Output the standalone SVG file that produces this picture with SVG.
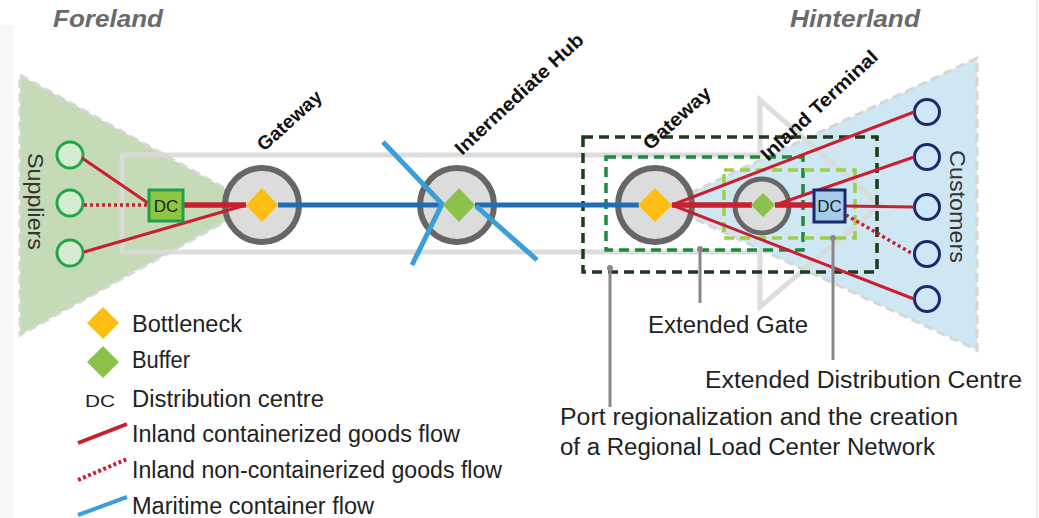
<svg xmlns="http://www.w3.org/2000/svg" width="1039" height="518" viewBox="0 0 1039 518">
<style>
.lbl{font-family:"Liberation Sans",Arial,sans-serif;font-size:23px;fill:#222}
.rot{font-family:"Liberation Sans",Arial,sans-serif;font-size:19px;font-weight:bold;fill:#111}
.side{font-family:"Liberation Sans",Arial,sans-serif;font-size:22px;fill:#333}
.region{font-family:"Liberation Sans",Arial,sans-serif;font-size:24px;font-weight:bold;font-style:italic;fill:#6a6a6a}
.dc{font-family:"Liberation Sans",Arial,sans-serif;font-size:17px;fill:#222}
.hub{fill:#dcdcdc;stroke:#666;stroke-width:6}
.red{stroke:#c8202e;stroke-width:3;fill:none}
.redthick{stroke:#c8202e;stroke-width:5.5;fill:none}
.reddot{stroke:#c8202e;stroke-width:3.5;stroke-dasharray:3 3;fill:none}
.sea{stroke:#1f6db5;stroke-width:5;fill:none}
.sealight{stroke:#3a9fd8;stroke-width:5;fill:none}
.sup{fill:#d5ecd2;stroke:#22a84a;stroke-width:3}
.cus{fill:#cde7f6;stroke:#1b2a6b;stroke-width:3}
.bottle{fill:#fdbd13}
.buffer{fill:#8bc34a}
.leader{stroke:#888;stroke-width:3;fill:none}
.box{fill:none;stroke-width:3.5;stroke-dasharray:10 6}
</style>
<rect width="1039" height="518" fill="#fff"/>
<rect x="0" y="25" width="14" height="493" fill="#f6f8f8"/>
<line x1="1037" y1="0" x2="1037" y2="518" stroke="#ececec" stroke-width="2"/>

<g id="foreland">
<polygon points="20,75 255,205 20,335" fill="#c5dbb8" stroke="#d6d6d6" stroke-width="3" stroke-dasharray="9 5"/>
<text class="region" x="53" y="27" textLength="110" lengthAdjust="spacingAndGlyphs">Foreland</text>
</g>
<g id="hinterland">
<polygon points="665,205 977,58 977,350" fill="#cfe7f3" stroke="#d6d6d6" stroke-width="3" stroke-dasharray="9 5"/>
<text class="region" x="790" y="27" textLength="130" lengthAdjust="spacingAndGlyphs">Hinterland</text>
</g>

<g id="corridor">
<path d="M122,155 H760 V100 L880,205 L760,307 V252 H122 Z" fill="none" stroke="#d9d9d9" stroke-width="5" stroke-opacity="0.9"/>
</g>

<g id="regional-network">
<rect class="box" x="583" y="137" width="294" height="135" stroke="#1c3a1c"/>
</g>
<g id="extended-gate">
<rect class="box" x="606" y="157" width="197" height="93" stroke="#1c8c3c"/>
</g>
<g id="extended-dc">
<rect class="box" x="724" y="170" width="131" height="68" stroke="#9bd04a"/>
</g>

<g id="suppliers">
<circle class="sup" cx="70" cy="155" r="13"/>
<circle class="sup" cx="70" cy="203" r="13"/>
<circle class="sup" cx="70" cy="253" r="13"/>
<text class="side" transform="translate(28,153) rotate(90)" textLength="97" lengthAdjust="spacingAndGlyphs">Suppliers</text>
</g>

<g id="gateway-1">
<circle class="hub" cx="262" cy="205" r="37"/>
<text class="rot" transform="translate(264,152) rotate(-42)" textLength="80" lengthAdjust="spacingAndGlyphs">Gateway</text>
</g>

<g id="intermediate-hub">
<circle class="hub" cx="457" cy="205" r="37"/>
<text class="rot" transform="translate(462,156) rotate(-43)" textLength="168" lengthAdjust="spacingAndGlyphs">Intermediate Hub</text>
</g>

<g id="gateway-2">
<circle class="hub" cx="655" cy="205" r="37"/>
<text class="rot" transform="translate(650,151) rotate(-42)" textLength="84" lengthAdjust="spacingAndGlyphs">Gateway</text>
</g>

<g id="inland-terminal">
<circle cx="762" cy="206" r="27" fill="#dcdcdc" stroke="#666" stroke-width="5"/>
<text class="rot" transform="translate(768,162) rotate(-43)" textLength="152" lengthAdjust="spacingAndGlyphs">Inland Terminal</text>
</g>

<g id="customers">
<circle class="cus" cx="927" cy="112" r="12.5"/>
<circle class="cus" cx="927" cy="157" r="12.5"/>
<circle class="cus" cx="927" cy="207" r="12.5"/>
<circle class="cus" cx="927" cy="254" r="12.5"/>
<circle class="cus" cx="927" cy="299" r="12.5"/>
<text class="side" transform="translate(950,150) rotate(90)" textLength="113" lengthAdjust="spacingAndGlyphs">Customers</text>
</g>

<g id="connectors">
<line class="red" x1="82" y1="158" x2="148" y2="203"/>
<line class="reddot" x1="84" y1="205" x2="148" y2="205"/>
<line class="red" x1="84" y1="252" x2="246" y2="205"/>
<line class="redthick" x1="183" y1="205" x2="246" y2="205"/>
<line class="sea" x1="278" y1="205" x2="443" y2="205"/>
<line class="sea" x1="475" y1="205" x2="639" y2="205"/>
<polyline class="sealight" points="383,142 442,204 412,265"/>
<line class="sealight" x1="476" y1="206" x2="537" y2="260"/>
<line class="red" x1="672" y1="205" x2="914" y2="112"/>
<line class="red" x1="672" y1="205" x2="914" y2="299"/>
<line class="redthick" x1="672" y1="205" x2="752" y2="205"/>
<line class="red" x1="775" y1="205" x2="914" y2="157"/>
<line class="redthick" x1="775" y1="205" x2="813" y2="205"/>
<line class="red" x1="845" y1="206" x2="914" y2="207"/>
<line class="reddot" x1="846" y1="215" x2="913" y2="254"/>
<line class="leader" x1="610" y1="268" x2="610" y2="407"/>
<circle cx="610" cy="268" r="3" fill="#888"/>
<line class="leader" x1="700" y1="249" x2="700" y2="303"/>
<circle cx="700" cy="249" r="3" fill="#888"/>
<line class="leader" x1="833" y1="238" x2="833" y2="360"/>
<circle cx="833" cy="238" r="3" fill="#888"/>
</g>

<g id="dc-foreland">
<rect x="149" y="190" width="34" height="31" fill="#8dc63f" stroke="#1fa04a" stroke-width="3"/>
<text class="dc" x="166" y="212" text-anchor="middle">DC</text>
</g>
<g id="gateway-1-bottleneck">
<polygon class="bottle" points="262,188 278,205 262,222 246,205"/>
</g>
<g id="intermediate-hub-buffer">
<polygon class="buffer" points="459,188 475,205 459,222 443,205"/>
</g>
<g id="gateway-2-bottleneck">
<polygon class="bottle" points="655,188 672,205 655,222 638,205"/>
</g>
<g id="inland-terminal-buffer">
<polygon class="buffer" points="763,193 775,205 763,217 751,205"/>
</g>
<g id="dc-hinterland">
<rect x="814" y="190" width="31" height="32" fill="#a4cbe9" stroke="#1b2a6b" stroke-width="3"/>
<text class="dc" x="829.5" y="212" text-anchor="middle">DC</text>
</g>

<g id="annotations">
<text class="lbl" x="648" y="333" textLength="160" lengthAdjust="spacingAndGlyphs">Extended Gate</text>
<text class="lbl" x="705" y="388" textLength="317" lengthAdjust="spacingAndGlyphs">Extended Distribution Centre</text>
<text class="lbl" x="560" y="425" textLength="398" lengthAdjust="spacingAndGlyphs">Port regionalization and the creation</text>
<text class="lbl" x="560" y="455" textLength="375" lengthAdjust="spacingAndGlyphs">of a Regional Load Center Network</text>
</g>

<g id="legend">
<polygon class="bottle" points="103,307 119,323 103,339 87,323"/>
<text class="lbl" x="132" y="332" textLength="110" lengthAdjust="spacingAndGlyphs">Bottleneck</text>
<polygon class="buffer" points="103,346 119,362 103,378 87,362"/>
<text class="lbl" x="132" y="368" textLength="58" lengthAdjust="spacingAndGlyphs">Buffer</text>
<text class="dc" x="85" y="407" textLength="30" lengthAdjust="spacingAndGlyphs">DC</text>
<text class="lbl" x="132" y="407" textLength="192" lengthAdjust="spacingAndGlyphs">Distribution centre</text>
<line x1="78" y1="443" x2="127" y2="424" stroke="#c8202e" stroke-width="4"/>
<text class="lbl" x="132" y="442" textLength="328" lengthAdjust="spacingAndGlyphs">Inland containerized goods flow</text>
<line x1="78" y1="480" x2="127" y2="459" stroke="#c8202e" stroke-width="4" stroke-dasharray="3 2.5"/>
<text class="lbl" x="132" y="478" textLength="370" lengthAdjust="spacingAndGlyphs">Inland non-containerized goods flow</text>
<line x1="78" y1="515" x2="127" y2="497" stroke="#3a9fd8" stroke-width="4"/>
<text class="lbl" x="132" y="514" textLength="242" lengthAdjust="spacingAndGlyphs">Maritime container flow</text>
</g>
</svg>
